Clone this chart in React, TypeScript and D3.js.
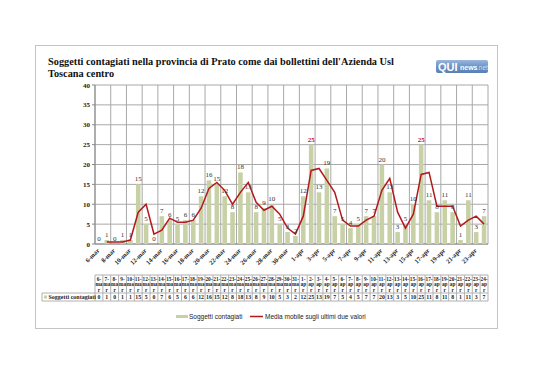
import React from "react";
import * as d3 from "d3";

const days: string[] = [
  "6-mar","7-mar","8-mar","9-mar","10-mar","11-mar","12-mar","13-mar","14-mar","15-mar",
  "16-mar","17-mar","18-mar","19-mar","20-mar","21-mar","22-mar","23-mar","24-mar","25-mar",
  "26-mar","27-mar","28-mar","29-mar","30-mar","31-mar",
  "1-apr","2-apr","3-apr","4-apr","5-apr","6-apr","7-apr","8-apr","9-apr","10-apr",
  "11-apr","12-apr","13-apr","14-apr","15-apr","16-apr","17-apr","18-apr","19-apr","20-apr",
  "21-apr","22-apr","23-apr","24-apr",
];
const cases: number[] = [
  0,1,0,1,1,15,5,0,7,6,
  5,6,6,12,16,15,12,8,18,13,
  8,9,10,5,3,2,
  12,25,13,19,7,5,4,5,7,7,
  20,13,3,5,10,25,11,8,11,8,
  1,11,3,7,
];
const yTicks: number[] = [0,5,10,15,20,25,30,35,40];
const title1 = "Soggetti contagiati nella provincia di Prato come dai bollettini dell'Azienda Usl";
const title2 = "Toscana centro";
const seriesName = "Soggetti contagiati";
const lineName = "Media mobile sugli ultimi due valori";

const BAR = "#c8d0a6";
const LINE = "#b3191c";
const SERIF = "'Liberation Serif', 'DejaVu Serif', serif";
const SANS = "'Liberation Sans', Arial, sans-serif";

export default function App() {
  const left = 95, right = 488, top = 85, bottom = 244;
  const x = d3.scaleBand<string>().domain(days).range([left, right]).paddingInner(0.42).paddingOuter(0.21);
  const step = (right - left) / days.length;
  const cx = (d: string) => left + days.indexOf(d) * step + step / 2;
  const y = d3.scaleLinear().domain([0, 40]).range([bottom, top]);
  const maxV = d3.max(cases) as number;

  const avg = cases.map((v, i) => (i === 0 ? null : (v + cases[i - 1]) / 2));
  const lineGen = d3
    .line<number | null>()
    .defined((d) => d !== null)
    .x((_, i) => cx(days[i]))
    .y((d) => y(d as number));

  const tblTop = 275, tblMid = 293, tblBot = 301;

  return (
    <svg width={538} height={380} style={{ position: "absolute", left: 0, top: 0 }}>
      <rect width={538} height={380} fill="#fff" />
      <rect x={35.5} y={45.5} width={462} height={283} fill="#fff" stroke="#c4c4c4" strokeWidth={1} />
      <text x={48} y={65} fontFamily={SERIF} fontWeight="bold" fontSize={10.3} fill="#111">{title1}</text>
      <text x={48} y={77} fontFamily={SERIF} fontWeight="bold" fontSize={10.3} fill="#111">{title2}</text>

      {/* logo */}
      <defs>
        <linearGradient id="lg" x1="0" y1="0" x2="0" y2="1">
          <stop offset="0" stopColor="#9bb8dc" />
          <stop offset="0.5" stopColor="#6f93c4" />
          <stop offset="1" stopColor="#5a7fb3" />
        </linearGradient>
      </defs>
      <rect x={436} y={60} width={52} height={13} rx={2} fill="url(#lg)" />
      <text x={438} y={71} fontFamily={SANS} fontWeight="bold" fontSize={11} fill="#fff">QUI</text>
      <text x={460} y={70} fontFamily={SANS} fontWeight="bold" fontSize={7} fill="#fff">news</text>
      <text x={477} y={70} fontFamily={SANS} fontSize={6.5} fill="#cfe0f5">.net</text>

      {/* grid */}
      {yTicks.map((t) => (
        <line key={"h" + t} x1={left} x2={right} y1={y(t)} y2={y(t)} stroke="#a8a8a8" strokeWidth={1} />
      ))}
      {days.map((d, i) =>
        i % 2 === 0 ? (
          <line key={"v" + d} x1={left + i * step} x2={left + i * step} y1={top} y2={bottom} stroke="#a8a8a8" strokeWidth={1} />
        ) : null
      )}
      <line x1={right} x2={right} y1={top} y2={bottom} stroke="#a8a8a8" />
      <line x1={left} x2={left} y1={top} y2={bottom} stroke="#888" />
      <line x1={left} x2={right} y1={bottom} y2={bottom} stroke="#888" />
      {yTicks.map((t) => (
        <g key={"yt" + t}>
          <line x1={left - 3} x2={left} y1={y(t)} y2={y(t)} stroke="#888" />
          <text x={left - 5} y={y(t) + 2.5} textAnchor="end" fontFamily={SERIF} fontWeight="bold" fontSize={7} fill="#222">{t}</text>
        </g>
      ))}

      {/* bars */}
      {cases.map((v, i) => (
        <rect key={"b" + i} x={x(days[i])} y={y(v)} width={x.bandwidth()} height={bottom - y(v)} fill={BAR} />
      ))}

      {/* moving average */}
      <path d={lineGen(avg) || ""} fill="none" stroke={LINE} strokeWidth={1.5} />

      {/* data labels */}
      {cases.map((v, i) => (
        <text key={"l" + i} x={cx(days[i])} y={y(v) - 3} textAnchor="middle" fontFamily={SERIF}
          fontSize={7} fontWeight={v === maxV ? "bold" : "normal"} fill={v === maxV ? "#c0161c" : "#333"}>
          {v}
        </text>
      ))}

      {/* x labels */}
      {days.map((d, i) =>
        i % 2 === 0 ? (
          <text key={"xl" + d} transform={`translate(${cx(d) + 1},${bottom + 7}) rotate(-45)`} textAnchor="end"
            fontFamily={SERIF} fontWeight="bold" fontSize={6.5} fill="#222">{d}</text>
        ) : null
      )}

      {/* data table */}
      <line x1={left} x2={right} y1={tblTop} y2={tblTop} stroke="#b0b0b0" />
      <line x1={42} x2={right} y1={tblMid} y2={tblMid} stroke="#b0b0b0" />
      <line x1={42} x2={right} y1={tblBot} y2={tblBot} stroke="#b0b0b0" />
      <line x1={42} x2={42} y1={tblMid} y2={tblBot} stroke="#b0b0b0" />
      {days.map((d, i) => (
        <line key={"tv" + i} x1={left + i * step} x2={left + i * step} y1={tblTop} y2={tblBot} stroke="#b0b0b0" />
      ))}
      <line x1={right} x2={right} y1={tblTop} y2={tblBot} stroke="#b0b0b0" />
      {days.map((d) => {
        const [num, mon] = d.split("-");
        return (
          <text key={"th" + d} fontFamily={SERIF} fontWeight="bold" fontSize={5.3} fill="#222" textAnchor="middle">
            <tspan x={cx(d)} y={tblTop + 5.5}>{num + "-"}</tspan>
            <tspan x={cx(d)} y={tblTop + 11}>{mon.slice(0, 2)}</tspan>
            <tspan x={cx(d)} y={tblTop + 16.5}>{mon.slice(2)}</tspan>
          </text>
        );
      })}
      {cases.map((v, i) => (
        <text key={"tc" + i} x={cx(days[i])} y={tblBot - 2} textAnchor="middle" fontFamily={SERIF} fontWeight="bold" fontSize={5.8} fill="#222">{v}</text>
      ))}
      <rect x={44} y={tblMid + 2.5} width={3} height={3} fill={BAR} />
      <text x={48.5} y={tblBot - 2} fontFamily={SERIF} fontWeight="bold" fontSize={6} fill="#222">{seriesName}</text>

      {/* legend */}
      <rect x={176} y={315} width={12} height={3} fill={BAR} />
      <text x={189} y={319} fontFamily={SANS} fontSize={6.5} fill="#222">{seriesName}</text>
      <line x1={250} x2={263} y1={316.5} y2={316.5} stroke={LINE} strokeWidth={1.5} />
      <text x={265} y={319} fontFamily={SANS} fontSize={6.5} fill="#222">{lineName}</text>
    </svg>
  );
}
